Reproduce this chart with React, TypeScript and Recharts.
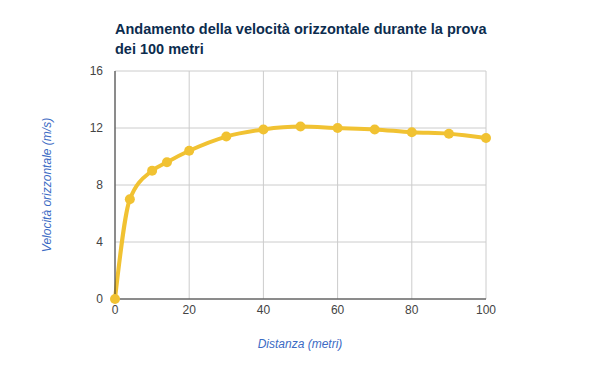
import React from 'react';
import { LineChart, Line, XAxis, YAxis, CartesianGrid } from 'recharts';

const distances = [0, 4, 10, 14, 20, 30, 40, 50, 60, 70, 80, 90, 100];
const speeds = [0, 7, 9, 9.6, 10.4, 11.4, 11.9, 12.1, 12.0, 11.9, 11.7, 11.6, 11.3];
const xTicks = [0, 20, 40, 60, 80, 100];
const yTicks = [0, 4, 8, 12, 16];

const data = distances.map((d, i) => ({ d, v: speeds[i] }));

const font = 'Arial, "Liberation Sans", sans-serif';

export default function App() {
  return (
    <div style={{ position: 'absolute', left: 0, top: 0, width: 600, height: 371, background: '#fff', fontFamily: font }}>
      <div style={{ position: 'absolute', left: 115, top: 19, fontSize: 14.5, fontWeight: 'bold', color: '#0c2c4e', lineHeight: '20px', width: 440, whiteSpace: 'nowrap' }}>
        Andamento della velocità orizzontale durante la prova<br />dei 100 metri
      </div>
      <LineChart width={600} height={371} data={data} margin={{ top: 71, right: 114, bottom: 42, left: 75 }}>
        <CartesianGrid stroke="#cccccc" vertical={true} horizontal={true} />
        <XAxis
          dataKey="d"
          type="number"
          domain={[0, 100]}
          ticks={xTicks}
          tickLine={false}
          tickSize={0}
          tickMargin={6}
          height={30}
          axisLine={{ stroke: '#333', strokeWidth: 1 }}
          tick={{ fill: '#444', fontSize: 12, fontFamily: font }}
        />
        <YAxis
          dataKey="v"
          type="number"
          domain={[0, 16]}
          ticks={yTicks}
          tickLine={false}
          tickSize={0}
          tickMargin={12}
          width={40}
          axisLine={{ stroke: '#333', strokeWidth: 1 }}
          tick={{ fill: '#444', fontSize: 12, fontFamily: font }}
        />
        <Line
          type="monotone"
          dataKey="v"
          stroke="#f1c232"
          strokeWidth={4}
          dot={{ r: 5, fill: '#f1c232', stroke: '#f1c232', strokeWidth: 0 }}
          isAnimationActive={false}
        />
      </LineChart>
      <div style={{ position: 'absolute', left: 0, width: 600, top: 337, fontSize: 12, fontStyle: 'italic', color: '#3c6bc4' }}>
        <span style={{ position: 'absolute', left: 300, transform: 'translateX(-50%)', whiteSpace: 'nowrap' }}>Distanza (metri)</span>
      </div>
      <div style={{ position: 'absolute', left: 47, top: 185, width: 0, height: 0 }}>
        <div style={{ position: 'absolute', left: 0, top: 0, transform: 'translate(-50%, -50%) rotate(-90deg)', whiteSpace: 'nowrap', fontSize: 12, fontStyle: 'italic', color: '#3c6bc4' }}>
          Velocità orizzontale (m/s)
        </div>
      </div>
    </div>
  );
}
